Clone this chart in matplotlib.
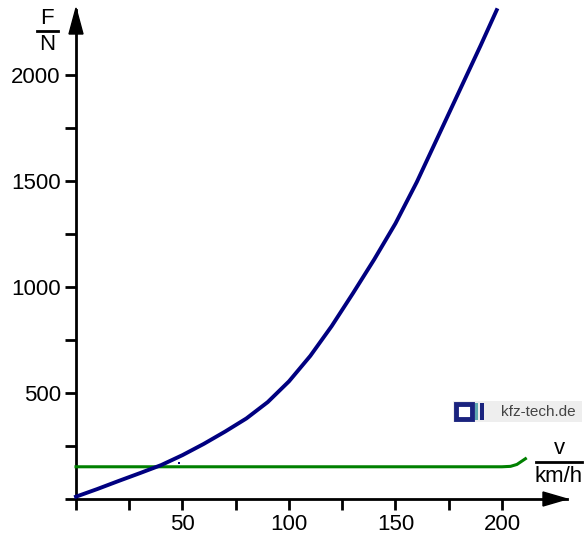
import matplotlib
matplotlib.use("Agg")
import matplotlib.pyplot as plt
from matplotlib.patches import Rectangle

plt.rcParams['font.family'] = ['Liberation Sans', 'DejaVu Sans']

# Data
speed_blue = [0, 10, 20, 30, 40, 50, 60, 70, 80, 90, 100, 110, 120, 130, 140,
              150, 160, 170, 180, 190, 197.5]
force_blue = [11, 47, 85, 122, 160, 207, 260, 318, 380, 457, 555, 675, 815, 970,
              1130, 1300, 1495, 1710, 1925, 2140, 2306]
speed_green = [0, 50, 100, 150, 200, 204, 207, 211]
force_green = [152, 152, 152, 152, 152, 154, 163, 190]
stray_v = [48.5]
stray_f = [168]

x_ticks = [0, 25, 50, 75, 100, 125, 150, 175, 200]
x_labels = ['', '', '50', '', '100', '', '150', '', '200']
y_ticks = [0, 250, 500, 750, 1000, 1250, 1500, 1750, 2000]
y_labels = ['', '', '500', '', '1000', '', '1500', '', '2000']

W, H = 586, 535
fig = plt.figure(figsize=(W / 100, H / 100), dpi=100)
x0, x1 = 76, 567
y0, y1 = 499, 10
ax = fig.add_axes([x0 / W, (H - y0) / H, (x1 - x0) / W, (y0 - y1) / H])
xmax = (x1 - x0) / 2.13
ymax = (y0 - y1) / 0.212
ax.set_xlim(0, xmax)
ax.set_ylim(0, ymax)

for s in ['top', 'right']:
    ax.spines[s].set_visible(False)
ax.spines['left'].set_linewidth(2)
ax.spines['bottom'].set_linewidth(2)

ax.set_xticks(x_ticks)
ax.set_xticklabels(x_labels, fontsize=16)
ax.set_yticks(y_ticks)
ax.set_yticklabels(y_labels, fontsize=16)
ax.tick_params(axis='both', direction='out', length=8, width=2, pad=3, colors='black')

ax.plot(speed_green, force_green, color='#008000', lw=2.2, clip_on=False, zorder=3)
ax.plot(speed_blue, force_blue, color='#000080', lw=2.8, clip_on=False, zorder=4,
        solid_joinstyle='round')
ax.plot(stray_v, stray_f, 's', color='#000080', ms=2, mew=0, zorder=4)

# arrow heads
fig.patches.append(plt.Polygon([[x1 / W, (H - y0) / H],
                                [(x1 - 24) / W, (H - y0 + 7) / H],
                                [(x1 - 24) / W, (H - y0 - 7) / H]],
                               closed=True, color='black', transform=fig.transFigure))
fig.patches.append(plt.Polygon([[x0 / W, (H - y1 + 2) / H],
                                [(x0 - 7) / W, (H - y1 - 24) / H],
                                [(x0 + 7) / W, (H - y1 - 24) / H]],
                               closed=True, color='black', transform=fig.transFigure))

# axis unit labels
fig.text(47 / W, (H - 18) / H, 'F', fontsize=16, ha='center', va='center')
fig.add_artist(plt.Line2D([37 / W, 58 / W], [(H - 31) / H, (H - 31) / H], color='black', lw=2))
fig.text(47 / W, (H - 45) / H, 'N', fontsize=16, ha='center', va='center')

fig.text(559 / W, (H - 449) / H, 'v', fontsize=16, ha='center', va='center')
fig.add_artist(plt.Line2D([536 / W, 582 / W], [(H - 462) / H, (H - 462) / H], color='black', lw=2))
fig.text(559 / W, (H - 476) / H, 'km/h', fontsize=16, ha='center', va='center')

# watermark logo
def frect(px, py, pw, ph, **kw):
    r = Rectangle((px / W, (H - py - ph) / H), pw / W, ph / H, transform=fig.transFigure, **kw)
    fig.patches.append(r)

frect(453, 401, 129, 21, facecolor='#eeeeee', edgecolor='none')
frect(456, 404, 16, 15, facecolor='white', edgecolor='#1a237e', lw=3.5)
frect(475, 403, 2.5, 17, facecolor='#5fa8b0', edgecolor='none')
frect(480, 403, 4, 17, facecolor='#1a237e', edgecolor='none')
fig.text(538 / W, (H - 411.5) / H, 'kfz-tech.de', fontsize=11, color='#444444',
         ha='center', va='center')

fig.savefig('out.png', dpi=100)
